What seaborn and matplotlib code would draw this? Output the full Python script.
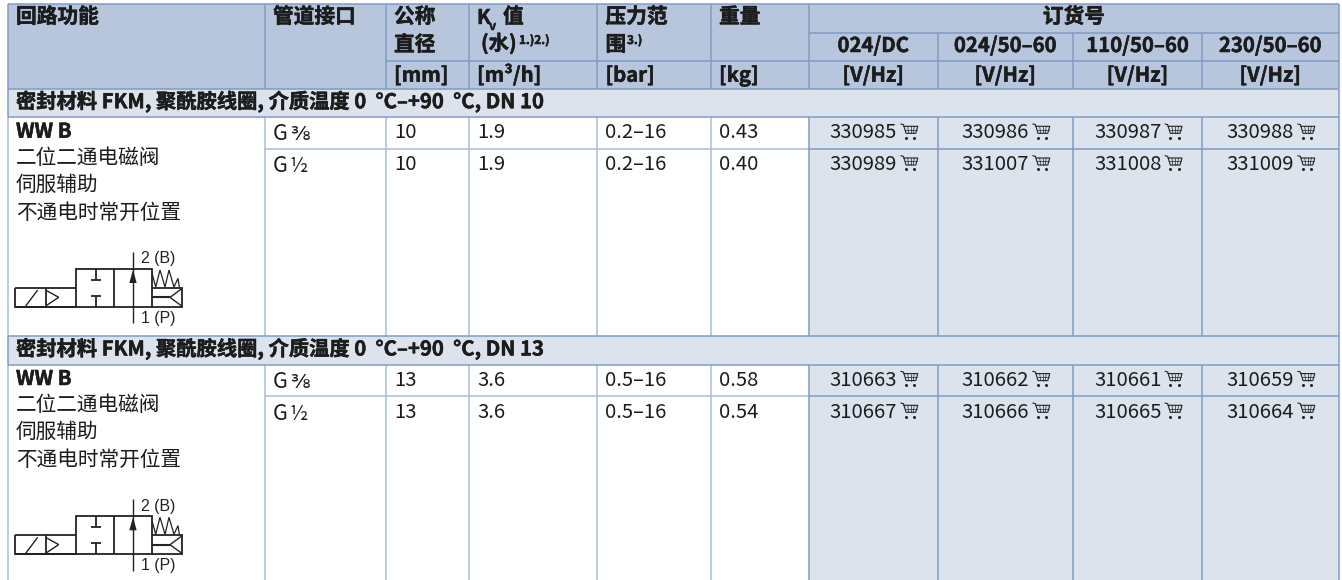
import matplotlib
matplotlib.use('Agg')
import matplotlib.pyplot as plt
import matplotlib.patheffects as pe
from matplotlib.patches import Rectangle, Polygon
import seaborn as sns

sns.set_theme(style='white')
plt.rcParams['font.family'] = ['Noto Sans CJK SC', 'DejaVu Sans']

# table content
head_titles = ['回路功能', '管道接口', '公称', '直径', '压力范', '围', '重量']
units = ['[mm]', '[m³/h]', '[bar]', '[kg]']
voltages = ['024/DC', '024/50–60', '110/50–60', '230/50–60']
unit_vhz = '[V/Hz]'
order_title = '订货号'
section_titles = ['密封材料 FKM, 聚酰胺线圈, 介质温度 0  °C–+90  °C, DN 10',
                  '密封材料 FKM, 聚酰胺线圈, 介质温度 0  °C–+90  °C, DN 13']
type_name = 'WW B'
type_lines = ['二位二通电磁阀', '伺服辅助', '不通电时常开位置']
ports = ['G ⅜', 'G ½']
nominal = [['10', '10'], ['13', '13']]
kv = [['1.9', '1.9'], ['3.6', '3.6']]
pressure = [['0.2–16', '0.2–16'], ['0.5–16', '0.5–16']]
weight = [['0.43', '0.40'], ['0.58', '0.54']]
orders = [[['330985', '330986', '330987', '330988'], ['330989', '331007', '331008', '331009']],
          [['310663', '310662', '310661', '310659'], ['310667', '310666', '310665', '310664']]]

# layout in image pixels
col_x = [7.5, 264.5, 385.7, 468.5, 597, 710.7, 809, 937.5, 1073, 1202, 1338.5]
TOP, H1, H2, H3 = 4, 32.5, 60.5, 88.7
SEC_H = 28.6
ROW_H = 31.7
OFFSET = 247.3
BOTTOM = 580

HEAD = '#b7c6dc'
LIGHT = '#dce3ed'
LINE = '#7f9cc4'
LINE_SOFT = '#a9bddb'
INK = '#1c1c1c'
FS = 14.6
FS_CJK = 14.9


def hline(ax, x0, x1, y, color=LINE, lw=1.1):
    ax.plot([x0, x1], [y, y], color=color, lw=lw, solid_capstyle='butt', zorder=2)


def vline(ax, x, y0, y1, color=LINE, lw=1.1):
    ax.plot([x, x], [y0, y1], color=color, lw=lw, solid_capstyle='butt', zorder=2)


def txt(ax, x, y, s, bold=False, ha='left', size=FS, **kw):
    t = ax.text(x, y, s, fontsize=size, fontweight='bold' if bold else 'normal', ha=ha,
                va='baseline', color=INK, zorder=4, **kw)
    if bold:
        t.set_path_effects([pe.withStroke(linewidth=0.35, foreground=INK)])
    return t


def cart(ax, x, y):
    # small shopping cart icon, x,y = top left
    c = '#222222'
    lw = 0.8
    ax.plot([x, x + 2.7, x + 5.3, x + 14.5], [y, y + 0.7, y + 9.3, y + 9.3], color=c, lw=lw, zorder=4)
    ax.plot([x + 2.9, x + 17, x + 15], [y + 2.3, y + 2.3, y + 9.3], color=c, lw=lw, zorder=4)
    ax.plot([x + 4, x + 16], [y + 5.7, y + 5.7], color=c, lw=0.5, zorder=4)
    for dx0, dx1 in [(7, 7.8), (10, 10), (13.5, 12.5)]:
        ax.plot([x + dx0, x + dx1], [y + 2.3, y + 9.3], color=c, lw=0.5, zorder=4)
    for dx in [5, 13.7]:
        ax.plot([x + dx], [y + 13.5], 'o', ms=2.2, mew=0, color=c, zorder=4)


def valve(ax, dy):
    k = '#222222'
    lw = 1.3

    def seg(xs, ys, w=lw):
        ax.plot(xs, [v + dy for v in ys], color=k, lw=w, solid_capstyle='butt',
                solid_joinstyle='miter', zorder=3)

    # solenoid + body outline
    seg([15.3, 15.3, 76, 76, 152, 152, 76, 15.3], [287.7, 306.7, 306.7, 269, 269, 306.7, 306.7, 306.7])
    seg([15.3, 76], [287.7, 287.7])
    seg([45.7, 45.7], [287.7, 306.7])
    seg([114, 114], [269, 306.7])
    seg([25.7, 37.7], [306, 290], 1.0)
    seg([46.7, 58.7, 46.7], [290.7, 297.3, 305.3], 1.0)
    # blocked port
    seg([95.7, 95.7], [269, 280])
    seg([90.7, 100.7], [280, 280])
    seg([95.7, 95.7], [296, 306.7])
    seg([90.7, 100.7], [296, 296])
    # flow arrow
    seg([133, 133], [251.7, 323.3], 1.0)
    ax.add_patch(Polygon([(133, 270 + dy), (129.3, 283 + dy), (136.7, 283 + dy)], color=k, lw=0, zorder=3))
    # spring side
    seg([152, 182.3, 182.3, 152], [287.7, 287.7, 306.7, 306.7])
    seg([182.3, 170, 182.3], [288.3, 297.4, 306.4], 1.0)
    seg([152, 170], [297.4, 297.4], 1.5)
    seg([152, 155.7, 160, 165, 169, 174, 178, 179.3],
        [273.3, 287, 270, 287, 270, 287, 278.3, 287], 0.9)
    for lab, y in [('2 (B)', 263.5), ('1 (P)', 323)]:
        ax.text(141, y + dy, lab, fontsize=11.4, family='Liberation Sans', color=k, va='baseline', zorder=4)


fig, ax = plt.subplots(figsize=(13.42, 5.8), dpi=100)
ax.set_position([0, 0, 1, 1])
ax.set_xlim(0, 1342)
ax.set_ylim(580, 0)
ax.axis('off')

# header + section + order backgrounds
ax.add_patch(Rectangle((col_x[0], TOP), col_x[-1] - col_x[0], H3 - TOP, color=HEAD, lw=0, zorder=1))
for d in [0, OFFSET]:
    ax.add_patch(Rectangle((col_x[0], H3 + d), col_x[-1] - col_x[0], SEC_H, color=LIGHT, lw=0, zorder=1))
ax.add_patch(Rectangle((col_x[6], H3 + SEC_H), col_x[-1] - col_x[6], BOTTOM - H3 - SEC_H, color=LIGHT, lw=0, zorder=1))

# grid lines of header
hline(ax, col_x[0], col_x[-1], TOP)
hline(ax, col_x[6], col_x[-1], H1)
hline(ax, col_x[2], col_x[-1], H2)
for i, x in enumerate(col_x):
    if i in (7, 8, 9):
        vline(ax, x, H1, H3)
    else:
        vline(ax, x, TOP, H3)

for s, d in enumerate([0, OFFSET]):
    sec_top = H3 + d
    row_top = sec_top + SEC_H
    end = BOTTOM if s == 1 else H3 + OFFSET
    hline(ax, col_x[1], col_x[6], row_top + ROW_H, color=LINE_SOFT)
    hline(ax, col_x[6], col_x[-1], row_top + ROW_H)
    for i, x in enumerate(col_x):
        vline(ax, x, row_top, end, color=LINE if i >= 6 else LINE_SOFT)
    vline(ax, col_x[0], sec_top, row_top)
    vline(ax, col_x[-1], sec_top, row_top)
    hline(ax, col_x[0], col_x[-1], sec_top)
    hline(ax, col_x[0], col_x[-1], row_top)
    txt(ax, 16, sec_top + 19.5, section_titles[s], bold=True)

    txt(ax, 16, d + 137.7, type_name, bold=True)
    for j, line in enumerate(type_lines):
        txt(ax, 16, d + 163.5 + j * 27.5, line, size=FS_CJK)
    valve(ax, d)

    for r in range(2):
        base = d + 138.5 + r * ROW_H
        txt(ax, 273, base + 2, ports[r][0], size=15.5)
        txt(ax, 290, base + 2, ports[r][2:], size=14.6)
        txt(ax, 394, base, nominal[s][r])
        txt(ax, 477, base, kv[s][r])
        txt(ax, 605.5, base, pressure[s][r])
        txt(ax, 719, base, weight[s][r])
        for c in range(4):
            cx = (col_x[6 + c] + col_x[7 + c]) / 2
            txt(ax, cx - 43.5, base, orders[s][r][c])
            cart(ax, cx + 27.5, base - 14.5)

# header text
txt(ax, 16, 23, head_titles[0], bold=True, size=FS_CJK)
txt(ax, 273, 23, head_titles[1], bold=True, size=FS_CJK)
txt(ax, 394, 23, head_titles[2], bold=True, size=FS_CJK)
txt(ax, 394, 51, head_titles[3], bold=True, size=FS_CJK)
txt(ax, 477, 24, 'K', bold=True)
txt(ax, 489, 30, 'v', bold=True, size=9)
txt(ax, 503, 23, '值', bold=True, size=FS_CJK)
txt(ax, 481, 50, '(水)', bold=True)
txt(ax, 519, 44, '1.)2.)', bold=True, size=8.5)
txt(ax, 605.5, 23, head_titles[4], bold=True, size=FS_CJK)
txt(ax, 605.5, 51, head_titles[5], bold=True, size=FS_CJK)
txt(ax, 627, 44, '3.)', bold=True, size=8.5)
txt(ax, 719, 23, head_titles[6], bold=True, size=FS_CJK)
txt(ax, 394, 81.7, units[0], bold=True)
txt(ax, 477, 81.7, units[1], bold=True)
txt(ax, 605.5, 81.7, units[2], bold=True)
txt(ax, 719, 81.7, units[3], bold=True)
txt(ax, (col_x[6] + col_x[-1]) / 2, 23, order_title, bold=True, ha='center', size=FS_CJK)
for c in range(4):
    cx = (col_x[6 + c] + col_x[7 + c]) / 2
    txt(ax, cx, 52, voltages[c], bold=True, ha='center')
    txt(ax, cx, 81.7, unit_vhz, bold=True, ha='center')

sns.despine(ax=ax, left=True, bottom=True)
plt.savefig('out.png', dpi=100, facecolor='white')
